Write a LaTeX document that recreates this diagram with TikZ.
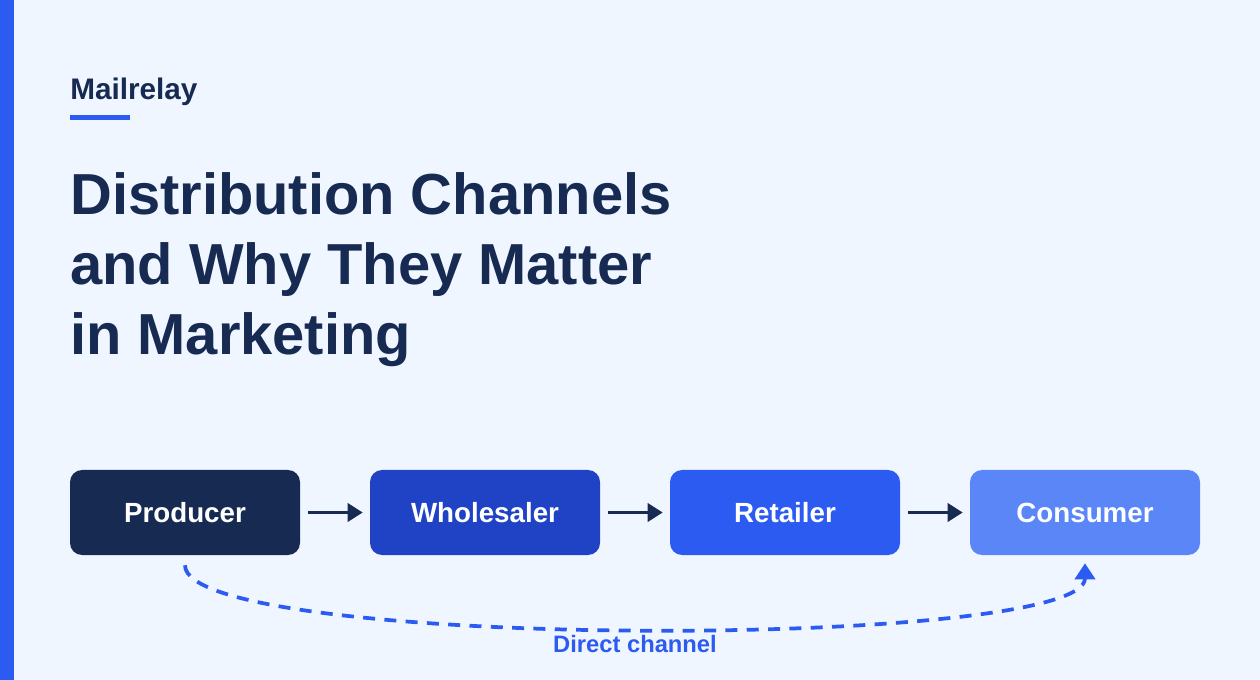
\documentclass[tikz,border=0pt]{standalone}
\usepackage{fontspec}
\setmainfont{Liberation Sans}
\usetikzlibrary{arrows.meta}
\definecolor{bgc}{HTML}{F0F6FF}
\definecolor{navy}{HTML}{162A52}
\definecolor{blueA}{HTML}{1F43C4}
\definecolor{blueB}{HTML}{2C5BF2}
\definecolor{blueC}{HTML}{5B86F7}
\tikzset{
  stagebox/.style={rectangle, rounded corners=9pt, minimum width=172.5pt, minimum height=63.75pt, inner sep=0pt, text=white, font=\fontsize{20.8}{24}\selectfont\bfseries},
  flowarrow/.style={draw=navy, line width=2.6pt, -{Triangle[length=11.25pt,width=13.5pt]}},
  directline/.style={draw=blueB, line width=2.8pt, dash pattern=on 9pt off 7pt, -{Triangle[length=12pt,width=15pt]}},
}
\begin{document}
\begin{tikzpicture}[x=0.75pt,y=-0.75pt]
\useasboundingbox (0,0) rectangle (1260,680);
\fill[bgc] (0,0) rectangle (1260,680);
\fill[blueB] (0,0) rectangle (14,680);
\node[anchor=base west, inner sep=0pt, text=navy, font=\fontsize{22.3}{26}\selectfont\bfseries] (brand) at (70,100) {Mailrelay};
\fill[blueB] (70,115) rectangle (130,120);
\node[anchor=base west, inner sep=0pt, text=navy, font=\fontsize{43.4}{52}\selectfont\bfseries] (title1) at (70,215) {Distribution Channels};
\node[anchor=base west, inner sep=0pt, text=navy, font=\fontsize{43.4}{52}\selectfont\bfseries] (title2) at (70,285) {and Why They Matter};
\node[anchor=base west, inner sep=0pt, text=navy, font=\fontsize{43.4}{52}\selectfont\bfseries] (title3) at (70,355) {in Marketing};
\node[stagebox, fill=navy] (producer) at (185,512.5) {Producer};
\node[stagebox, fill=blueA] (wholesaler) at (485,512.5) {Wholesaler};
\node[stagebox, fill=blueB] (retailer) at (785,512.5) {Retailer};
\node[stagebox, fill=blueC] (consumer) at (1085,512.5) {Consumer};
\draw[flowarrow] ([xshift=6pt]producer.east) -- ([xshift=-5.25pt]wholesaler.west);
\draw[flowarrow] ([xshift=6pt]wholesaler.east) -- ([xshift=-5.25pt]retailer.west);
\draw[flowarrow] ([xshift=6pt]retailer.east) -- ([xshift=-5.25pt]consumer.west);
\draw[directline] ([yshift=-7.5pt]producer.south) .. controls +(0,85) and +(0,87) .. ([yshift=-6pt]consumer.south);
\node[anchor=base, inner sep=0pt, text=blueB, font=\fontsize{17.8}{21}\selectfont\bfseries] (directlabel) at (635,652) {Direct channel};
\end{tikzpicture}
\end{document}
